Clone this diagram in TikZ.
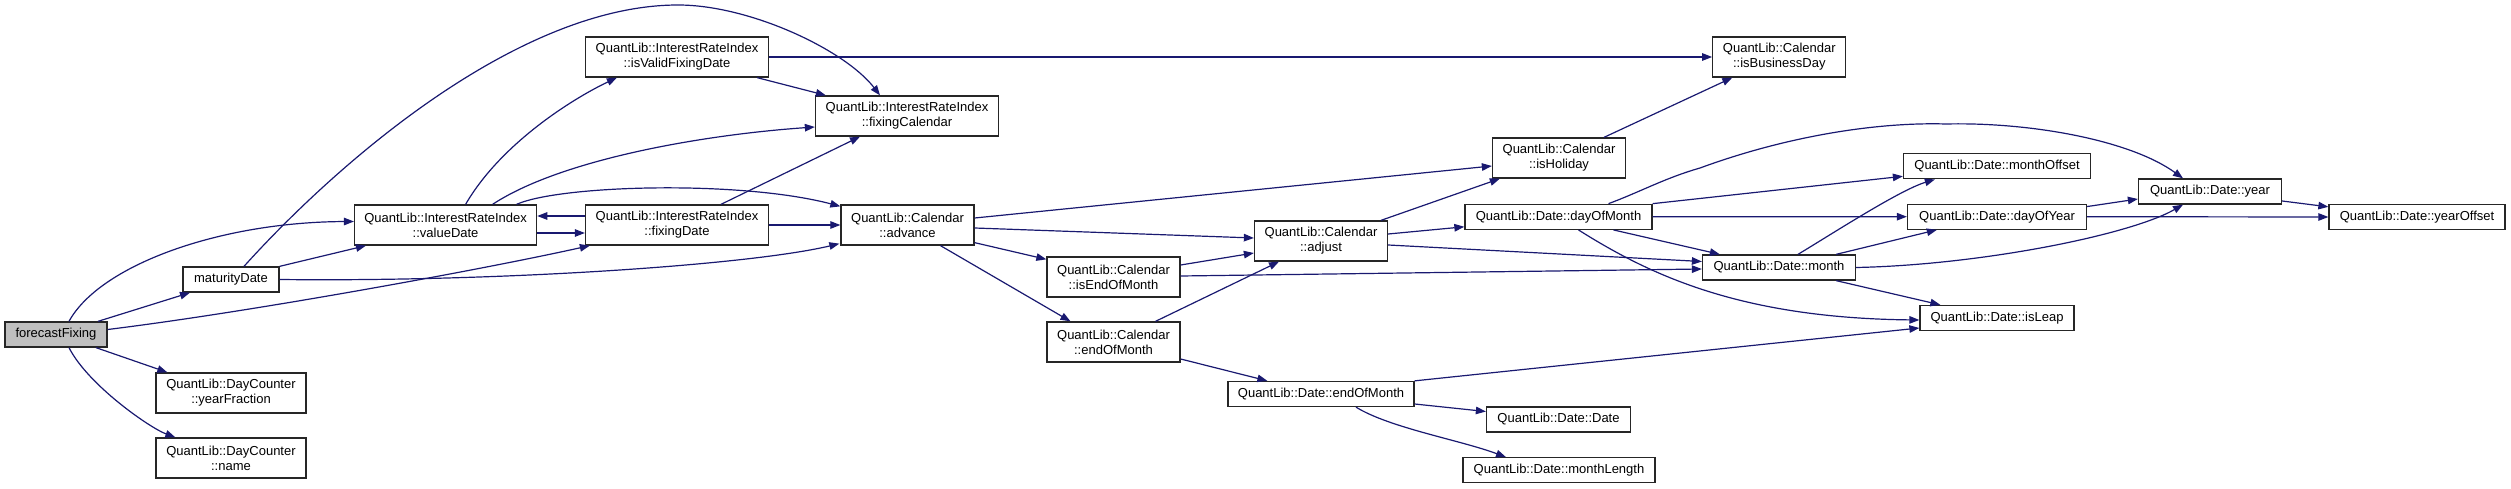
\documentclass[tikz,border=0pt]{standalone}
\usepackage{fontspec}
\setmainfont{Liberation Sans}
\usetikzlibrary{arrows.meta,calc}
\definecolor{edgec}{HTML}{191970}
\definecolor{rootfill}{HTML}{BFBFBF}
\tikzset{
  fn/.style={draw=black!85, line width=1.3pt, fill=white, inner sep=0pt,
    align=center, font=\fontsize{13}{15}\selectfont},
  one/.style={minimum height=25pt},
  two/.style={minimum height=40pt},
  ed/.style={draw=edgec, line width=1.2pt, -{Triangle[length=10pt,width=7.5pt]}}
}
\begin{document}
\begin{tikzpicture}[x=1pt,y=-1pt]
\useasboundingbox (0,0) rectangle (2511,489);
% nodes
\node[fn,one,fill=rootfill,minimum width=102pt] (ff) at (56,334.5) {forecastFixing};
\node[fn,one,minimum width=96pt] (md) at (231,279.5) {maturityDate};
\node[fn,two,minimum width=150pt] (yf) at (231,393) {QuantLib::DayCounter\\::yearFraction};
\node[fn,two,minimum width=150pt] (nm) at (231,458) {QuantLib::DayCounter\\::name};
\node[fn,two,minimum width=182pt] (vd) at (445.6,225) {QuantLib::InterestRateIndex\\::valueDate};
\node[fn,two,minimum width=183pt] (fd) at (677,225) {QuantLib::InterestRateIndex\\::fixingDate};
\node[fn,two,minimum width=183pt] (ivf) at (677,57) {QuantLib::InterestRateIndex\\::isValidFixingDate};
\node[fn,two,minimum width=183pt] (fc) at (907,116) {QuantLib::InterestRateIndex\\::fixingCalendar};
\node[fn,two,minimum width=133pt] (adv) at (907.5,225) {QuantLib::Calendar\\::advance};
\node[fn,two,minimum width=133pt] (iem) at (1113.5,277) {QuantLib::Calendar\\::isEndOfMonth};
\node[fn,two,minimum width=133pt] (cem) at (1113.5,342) {QuantLib::Calendar\\::endOfMonth};
\node[fn,two,minimum width=133pt] (adj) at (1321,241) {QuantLib::Calendar\\::adjust};
\node[fn,two,minimum width=133pt] (ih) at (1559,158) {QuantLib::Calendar\\::isHoliday};
\node[fn,one,minimum width=187pt] (dom) at (1558.5,216.8) {QuantLib::Date::dayOfMonth};
\node[fn,one,minimum width=186pt] (dem) at (1321,394) {QuantLib::Date::endOfMonth};
\node[fn,one,minimum width=144pt] (dd) at (1558.5,419.5) {QuantLib::Date::Date};
\node[fn,one,minimum width=192pt] (ml) at (1559,470.3) {QuantLib::Date::monthLength};
\node[fn,two,minimum width=133pt] (ibd) at (1779.3,57) {QuantLib::Calendar\\::isBusinessDay};
\node[fn,one,minimum width=187pt] (mo) at (1997,166.3) {QuantLib::Date::monthOffset};
\node[fn,one,minimum width=179pt] (doy) at (1997,216.7) {QuantLib::Date::dayOfYear};
\node[fn,one,minimum width=153pt] (mon) at (1779,267.5) {QuantLib::Date::month};
\node[fn,one,minimum width=154pt] (il) at (1997,318) {QuantLib::Date::isLeap};
\node[fn,one,minimum width=143pt] (yr) at (2210,191.5) {QuantLib::Date::year};
\node[fn,one,minimum width=176pt] (yo) at (2417,217) {QuantLib::Date::yearOffset};
\coordinate (arcTop) at (678,5);
% edges
\draw[ed] ($(ff.north)+(42,0)$) -- ($(md.south)+(-41,0)$);
\draw[ed] ($(ff.north)+(13,0)$) .. controls (100,265) and (220,222) .. ($(vd.west)+(0,-3.5)$);
\draw[ed] ($(ff.east)+(0,-5)$) .. controls (250,312) and (480,270) .. ($(fd.south west)+(5,0)$);
\draw[ed] ($(ff.south)+(40,0)$) -- ($(yf.north west)+(12,0)$);
\draw[ed] ($(ff.south)+(13,0)$) .. controls (88,385) and (150,428) .. ($(nm.north west)+(20,0)$);
\draw[ed] (md.north east) -- ($(vd.south west)+(12,0)$);
\draw[ed] ($(md.north)+(13,0)$) .. controls (340,160) and (520,5) .. (arcTop) .. controls (750,5) and (845,50) .. ($(fc.north)+(-27,0)$);
\draw[ed] (md.east) .. controls (500,282) and (750,265) .. ($(adv.south west)+(-1,-2)$);
\draw[ed] ($(vd.north)+(20,0)$) .. controls (500,145) and (570,100) .. ($(ivf.south west)+(32,0)$);
\draw[ed] ($(vd.north)+(47,0)$) .. controls (560,160) and (700,135) .. ($(fc.west)+(0,11)$);
\draw[ed] ($(vd.north)+(71,0)$) .. controls (560,185) and (740,180) .. ($(adv.north west)+(0,2)$);
\draw[ed] ($(vd.east)+(0,8)$) -- ($(fd.west)+(0,8)$);
\draw[ed] ($(fd.west)+(0,-9)$) -- ($(vd.east)+(0,-9)$);
\draw[ed] ($(fd.north)+(44,0)$) -- ($(fc.south)+(-47,0)$);
\draw[ed] (fd.east) -- (adv.west);
\draw[ed] (ivf.east) -- (ibd.west);
\draw[ed] ($(ivf.south east)+(-12,0)$) -- ($(fc.north west)+(11,0)$);
\draw[ed] ($(adv.east)+(0,-7)$) -- ($(ih.west)+(0,8)$);
\draw[ed] ($(adv.east)+(0,3)$) -- ($(adj.west)+(0,-3)$);
\draw[ed] ($(adv.south east)+(0,-3)$) -- ($(iem.north west)+(0,3)$);
\draw[ed] ($(adv.south)+(33,0)$) -- ($(cem.north)+(-43,0)$);
\draw[ed] ($(iem.east)+(0,-12)$) -- ($(adj.west)+(0,12)$);
\draw[ed] ($(iem.east)+(0,-1)$) -- ($(mon.west)+(0,1.5)$);
\draw[ed] ($(cem.north)+(42,0)$) -- ($(adj.south)+(-42,0)$);
\draw[ed] ($(cem.east)+(0,17)$) -- ($(dem.north west)+(40,0)$);
\draw[ed] ($(adj.north)+(60,0)$) -- ($(ih.south west)+(8,0)$);
\draw[ed] ($(adj.east)+(0,-7)$) -- ($(dom.west)+(0,10)$);
\draw[ed] ($(adj.east)+(0,4)$) -- ($(mon.west)+(0,-6)$);
\draw[ed] ($(ih.north)+(45,0)$) -- ($(ibd.south)+(-47,0)$);
\draw[ed] ($(dom.north)+(50,0)$) .. controls (1640,192) and (1665,178) .. (1700,168) .. controls (1790,135) and (1880,122) .. (1946,124) .. controls (2030,122) and (2130,140) .. ($(yr.north)+(-27,0)$);
\draw[ed] (dom.north east) -- ($(mo.west)+(0,10)$);
\draw[ed] (dom.east) -- (doy.west);
\draw[ed] ($(dom.south)+(55,0)$) -- ($(mon.north west)+(18,0)$);
\draw[ed] ($(dom.south)+(20,0)$) .. controls (1650,275) and (1740,318) .. ($(il.west)+(0,2)$);
\draw[ed] (dem.north east) -- ($(il.west)+(0,10)$);
\draw[ed] ($(dem.east)+(0,10)$) -- ($(dd.west)+(0,-8)$);
\draw[ed] ($(dem.south)+(35,0)$) .. controls (1390,428) and (1460,440) .. ($(ml.north)+(-53,0)$);
\draw[ed] ($(mon.north)+(19,0)$) .. controls (1835,232) and (1900,190) .. ($(mo.south west)+(32,0)$);
\draw[ed] ($(mon.north east)+(-20,0)$) -- ($(doy.south west)+(30,0)$);
\draw[ed] (mon.east) .. controls (1980,265) and (2130,235) .. ($(yr.south)+(-27,0)$);
\draw[ed] ($(mon.south east)+(-20,0)$) -- ($(il.north west)+(21,0)$);
\draw[ed] ($(doy.north east)+(0,3)$) -- ($(yr.west)+(0,7.5)$);
\draw[ed] (doy.east) -- (yo.west);
\draw[ed] ($(yr.east)+(0,9.5)$) -- ($(yo.north west)+(0,3)$);
\end{tikzpicture}
\end{document}
